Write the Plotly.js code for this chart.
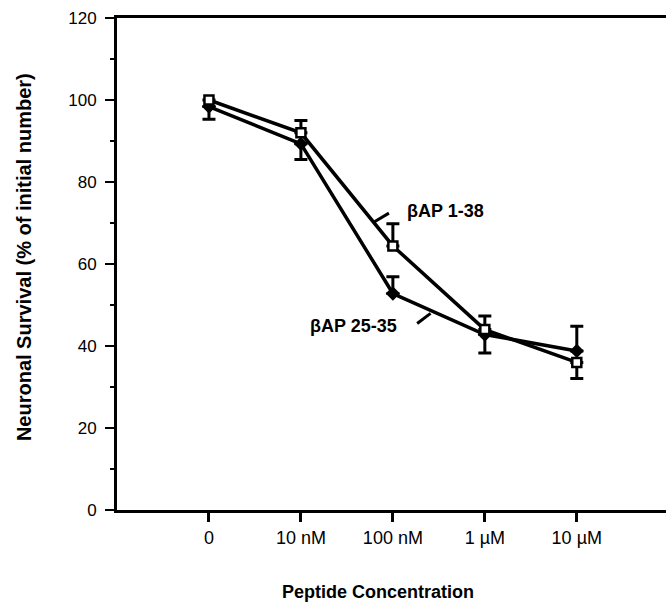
<!DOCTYPE html>
<html>
<head>
<meta charset="utf-8">
<script src="https://cdn.plot.ly/plotly-3.0.1.min.js"></script>
<style>
  html, body { margin: 0; padding: 0; background: #fff; }
  #chart { width: 666px; height: 602px; }
</style>
</head>
<body>
<div id="chart"></div>
<script>
// Peptide concentrations (x categories)
const concentrations = ["0", "10 nM", "100 nM", "1 \u00b5M", "10 \u00b5M"];

// βAP 1-38 (open squares)
const bap138 = [100, 92, 64.4, 44, 36];
const bap138ErrUp = [0, 3, 5.4, 3.3, 0];
const bap138ErrDown = [0, 0, 0, 0, 3.9];

// βAP 25-35 (filled diamonds)
const bap2535 = [98.4, 89.3, 52.8, 42.8, 38.8];
const bap2535ErrUp = [0, 0, 4.1, 0, 6];
const bap2535ErrDown = [3.1, 3.8, 0, 4.5, 0];

const seriesNames = ["\u03b2AP 1-38", "\u03b2AP 25-35"];

const font = "Liberation Sans, Arial, Helvetica, sans-serif";

const errStyle = { color: "#000", thickness: 3, width: 6.5 };

const traces = [
  {
    name: seriesNames[1],
    x: concentrations,
    y: bap2535,
    type: "scatter",
    mode: "lines+markers",
    line: { color: "#000", width: 3.5 },
    marker: { symbol: "diamond", size: 11, color: "#000" },
    error_y: Object.assign({ type: "data", symmetric: false,
      array: bap2535ErrUp, arrayminus: bap2535ErrDown }, errStyle),
    cliponaxis: false
  },
  {
    name: seriesNames[0],
    x: concentrations,
    y: bap138,
    type: "scatter",
    mode: "lines+markers",
    line: { color: "#000", width: 3.5 },
    marker: { symbol: "square", size: 9, color: "#fff",
      line: { color: "#000", width: 2.5 } },
    error_y: Object.assign({ type: "data", symmetric: false,
      array: bap138ErrUp, arrayminus: bap138ErrDown }, errStyle),
    cliponaxis: false
  }
];

const layout = {
  width: 666,
  height: 602,
  margin: { l: 117, r: 0, t: 18, b: 92 },
  paper_bgcolor: "#fff",
  plot_bgcolor: "#fff",
  showlegend: false,
  font: { family: font, color: "#000" },
  xaxis: {
    type: "category",
    range: [-1, 4.97],
    showgrid: false,
    zeroline: false,
    showline: true,
    linecolor: "#000",
    linewidth: 3,
    mirror: true,
    ticks: "outside",
    ticklen: 9,
    tickwidth: 3,
    tickcolor: "#000",
    ticklabelstandoff: 0,
    tickfont: { family: font, size: 18, color: "#000" }
  },
  yaxis: {
    range: [0, 120],
    tickvals: [0, 20, 40, 60, 80, 100, 120],
    showgrid: false,
    zeroline: false,
    showline: true,
    linecolor: "#000",
    linewidth: 3,
    ticks: "outside",
    ticklen: 9,
    tickwidth: 2.5,
    tickcolor: "#000",
    ticklabelstandoff: 5,
    tickfont: { family: font, size: 17, color: "#000" },
    minor: { dtick: 10, tick0: 0, ticks: "outside", ticklen: 4, tickwidth: 2, tickcolor: "#000" }
  },
  annotations: [
    {
      text: "<b>Neuronal Survival (% of initial number)</b>",
      xref: "paper", yref: "paper",
      x: -0.1694, y: 0.514,
      xanchor: "center", yanchor: "middle",
      textangle: -90, showarrow: false,
      font: { family: font, size: 20, color: "#000" }
    },
    {
      text: "<b>Peptide Concentration</b>",
      xref: "paper", yref: "paper",
      x: 0.4754, y: -0.1667,
      xanchor: "center", yanchor: "middle",
      showarrow: false,
      font: { family: font, size: 18, color: "#000" }
    },
    {
      text: "<b>" + seriesNames[0] + "</b>",
      xref: "x", yref: "y",
      x: 2.573, y: 73.0,
      xanchor: "center", yanchor: "middle",
      showarrow: false,
      font: { family: font, size: 18, color: "#000" }
    },
    {
      text: "<b>" + seriesNames[1] + "</b>",
      xref: "x", yref: "y",
      x: 1.576, y: 44.95,
      xanchor: "center", yanchor: "middle",
      showarrow: false,
      font: { family: font, size: 18, color: "#000" }
    }
  ],
  shapes: [
    // leader ticks linking each label to its curve
    { type: "line", xref: "x", yref: "y", x0: 1.80, y0: 70.3, x1: 1.957, y1: 72.4,
      line: { color: "#000", width: 3 } },
    { type: "line", xref: "x", yref: "y", x0: 2.264, y0: 45.5, x1: 2.41, y1: 47.96,
      line: { color: "#000", width: 3 } }
  ]
};

Plotly.newPlot("chart", traces, layout, { displayModeBar: false, staticPlot: true });
</script>
</body>
</html>
